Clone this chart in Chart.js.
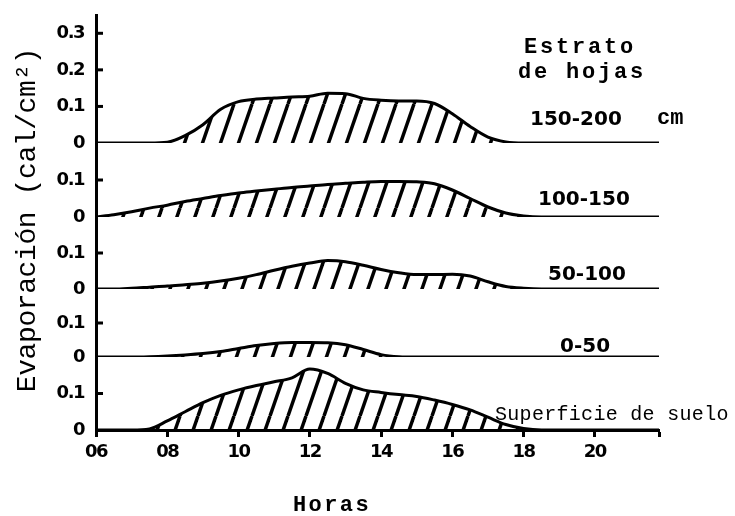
<!DOCTYPE html>
<html>
<head>
<meta charset="utf-8">
<script src="https://cdn.jsdelivr.net/npm/chart.js@4.4.1/dist/chart.umd.min.js"></script>
<style>
  html, body { margin: 0; padding: 0; background: #fff; }
</style>
</head>
<body>
<canvas id="evapChart" width="735" height="516"></canvas>
<script>
// hour of day for every sample
const hours = [6, 6.5, 7, 7.5, 8, 8.5, 9, 9.5, 10, 10.5, 11, 11.5, 12, 12.5, 13, 13.5, 14, 14.5, 15, 15.5, 16, 16.5, 17, 17.5, 18, 18.5, 21.8];

// evaporation (cal/cm2) per leaf layer
const evap150_200 = [0, 0, 0, 0, 0.002, 0.02, 0.05, 0.092, 0.113, 0.12, 0.123, 0.126, 0.128, 0.136, 0.135, 0.122, 0.117, 0.115, 0.115, 0.108, 0.08, 0.045, 0.016, 0.003, 0, 0, 0];
const evap100_150 = [0, 0.006, 0.014, 0.024, 0.032, 0.042, 0.05, 0.058, 0.065, 0.07, 0.075, 0.08, 0.084, 0.088, 0.091, 0.094, 0.096, 0.096, 0.095, 0.09, 0.073, 0.05, 0.027, 0.011, 0.003, 0, 0];
const evap50_100 = [0, 0, 0.002, 0.005, 0.008, 0.012, 0.016, 0.022, 0.03, 0.04, 0.052, 0.063, 0.072, 0.079, 0.076, 0.066, 0.054, 0.045, 0.04, 0.04, 0.041, 0.036, 0.02, 0.007, 0.002, 0, 0];
const evap0_50 = [0, 0, 0, 0.001, 0.003, 0.006, 0.01, 0.016, 0.025, 0.034, 0.04, 0.043, 0.043, 0.042, 0.036, 0.022, 0.007, 0.001, 0, 0, 0, 0, 0, 0, 0, 0, 0];
const evapSuelo = [0, 0, 0, 0.003, 0.025, 0.05, 0.075, 0.095, 0.11, 0.122, 0.132, 0.143, 0.167, 0.155, 0.128, 0.11, 0.103, 0.097, 0.092, 0.082, 0.07, 0.055, 0.035, 0.015, 0.004, 0, 0];

const hourTicks = [6, 8, 10, 12, 14, 16, 18, 20, 21.8];
const layerLabels = ['150-200', '100-150', '50-100', '0-50'];

// diagonal hatching used as the area fill
function hatchPattern() {
    const w = 18, h = 52;
    const c = document.createElement('canvas');
    c.width = w; c.height = h;
    const g = c.getContext('2d');
    g.strokeStyle = '#000';
    g.lineWidth = 3.5;
    for (const off of [-w, 0, w]) {
        g.beginPath();
        g.moveTo(off, h);
        g.lineTo(off + w, 0);
        g.stroke();
    }
    return g.createPattern(c, 'repeat');
}
const hatch = hatchPattern();

function series(values, axis) {
    return {
        data: hours.map((h, i) => ({ x: h, y: values[i] })),
        yAxisID: axis,
        borderColor: '#000',
        borderWidth: 3,
        backgroundColor: hatch,
        fill: 'origin',
        pointRadius: 0,
        cubicInterpolationMode: 'monotone'
    };
}

const tickFont = { family: 'DejaVu Sans', weight: 'bold', size: 18 };

// one panel = one y axis in a shared stack
function panelAxis(max, weight, tickValues) {
    return {
        type: 'linear',
        position: 'left',
        stack: 'layers',
        stackWeight: weight,
        min: 0,
        max: max,
        grid: { display: false },
        border: { display: true, width: 3, color: '#000' },
        afterBuildTicks: s => { s.ticks = tickValues.map(v => ({ value: v })); },
        afterFit: s => { s.width = 46; },
        ticks: {
            color: '#000',
            font: tickFont,
            padding: 4,
            autoSkip: false,
            callback: v => (v === 0 ? '0' : v.toFixed(1))
        }
    };
}

const panelText = {
    id: 'panelText',
    beforeDraw(chart) {
        chart.ctx.letterSpacing = '-1.5px';
    },
    afterDatasetsDraw(chart) {
        // small inward tick stubs on the y axis
        const ctx = chart.ctx;
        const left = chart.chartArea.left;
        ctx.save();
        ctx.strokeStyle = '#000';
        ctx.lineWidth = 3;
        for (const id of ['ySuelo', 'y0_50', 'y50_100', 'y100_150', 'y150_200']) {
            const s = chart.scales[id];
            s.ticks.forEach(t => {
                if (t.value <= 0) return;
                const y = s.getPixelForValue(t.value);
                ctx.beginPath();
                ctx.moveTo(left, y);
                ctx.lineTo(left + 7, y);
                ctx.stroke();
            });
        }
        ctx.restore();
    },
    afterDraw(chart) {
        const ctx = chart.ctx;
        ctx.save();
        ctx.fillStyle = '#000';

        // layer names, hand lettered
        ctx.letterSpacing = '0px';
        ctx.font = 'bold 20px "DejaVu Sans"';
        ctx.textAlign = 'left';
        ctx.textBaseline = 'alphabetic';
        ctx.fillText(layerLabels[0], 530, 125);
        ctx.fillText(layerLabels[1], 538, 205);
        ctx.fillText(layerLabels[2], 548, 280);
        ctx.fillText(layerLabels[3], 560, 352);

        ctx.font = 'bold 22px "Liberation Mono"';
        ctx.fillText('cm', 657, 124);

        ctx.font = '20px "Liberation Mono"';
        ctx.letterSpacing = '0.3px';
        ctx.fillText('Superficie de suelo', 495, 420);

        ctx.font = 'bold 22px "Liberation Mono"';
        ctx.letterSpacing = '2.8px';
        ctx.textAlign = 'center';
        ctx.fillText('Estrato', 580, 53);
        ctx.fillText('de hojas', 582, 78);

        ctx.letterSpacing = '2.4px';
        ctx.fillText('Horas', 332, 511);

        // rotated y title
        ctx.translate(35, 220);
        ctx.rotate(-Math.PI / 2);
        ctx.font = '28px "Liberation Mono"';
        ctx.letterSpacing = '-0.4px';
        ctx.fillText('Evaporación (cal/cm²)', 0, 0);
        ctx.restore();
    }
};

new Chart(document.getElementById('evapChart').getContext('2d'), {
    type: 'line',
    data: {
        datasets: [
            series(evapSuelo, 'ySuelo'),
            series(evap0_50, 'y0_50'),
            series(evap50_100, 'y50_100'),
            series(evap100_150, 'y100_150'),
            series(evap150_200, 'y150_200')
        ]
    },
    options: {
        responsive: false,
        animation: false,
        layout: { padding: { left: 50, top: 15, right: 76, bottom: 46 } },
        plugins: {
            legend: { display: false },
            tooltip: { enabled: false }
        },
        scales: {
            x: {
                type: 'linear',
                min: 6,
                max: 21.8,
                grid: { drawOnChartArea: false, tickLength: 7, tickWidth: 3, tickColor: '#000' },
                border: { display: true, width: 3, color: '#000' },
                afterBuildTicks: s => { s.ticks = hourTicks.map(v => ({ value: v })); },
                afterFit: s => { s.height = 40; },
                ticks: {
                    color: '#000',
                    font: tickFont,
                    padding: 5,
                    maxRotation: 0,
                    autoSkip: false,
                    callback: v => (v > 20.5 ? '' : String(v).padStart(2, '0'))
                }
            },
            // listed bottom to top: later axes are stacked above
            ySuelo: panelAxis(0.2, 73, [0, 0.1]),
            y0_50: panelAxis(0.2, 68, [0, 0.1]),
            y50_100: panelAxis(0.2, 72, [0, 0.1]),
            y100_150: panelAxis(0.2, 74, [0, 0.1]),
            y150_200: panelAxis(0.35, 128, [0, 0.1, 0.2, 0.3])
        }
    },
    plugins: [panelText]
});
</script>
</body>
</html>
